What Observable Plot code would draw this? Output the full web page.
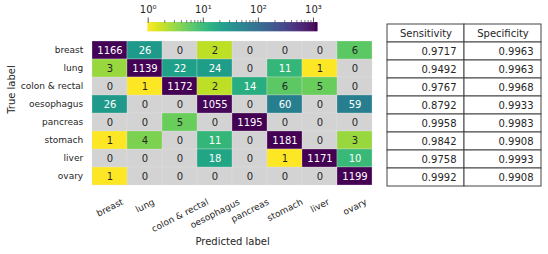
<!DOCTYPE html>
<html><head><meta charset="utf-8">
<script src="https://cdn.jsdelivr.net/npm/d3@7"></script>
<script src="https://cdn.jsdelivr.net/npm/@observablehq/plot@0.6"></script>
<style>
body{margin:0;background:#fff;}
#wrap{position:relative;width:548px;height:254px;background:#fff;}
#wrap svg{position:absolute;left:0;top:0;}
</style>
</head><body><div id="wrap"></div>
<script>
const labels = ["breast","lung","colon & rectal","oesophagus","pancreas","stomach","liver","ovary"];
const counts = [
  [1166,26,0,2,0,0,0,6],
  [3,1139,22,24,0,11,1,0],
  [0,1,1172,2,14,6,5,0],
  [26,0,0,1055,0,60,0,59],
  [0,0,5,0,1195,0,0,0],
  [1,4,0,11,0,1181,0,3],
  [0,0,0,18,0,1,1171,10],
  [1,0,0,0,0,0,0,1199]
];
const sensitivity = [0.9717,0.9492,0.9767,0.8792,0.9958,0.9842,0.9758,0.9992];
const specificity = [0.9963,0.9963,0.9968,0.9933,0.9983,0.9908,0.9993,0.9908];
const tableColumns = ["Sensitivity","Specificity"];
const colorMajorTicks = [1,10,100,1000];
const colorTickLabels = ["10\u2070","10\u00b9","10\u00b2","10\u00b3"];
const colorMinorTicks = [2,3,4,5,6,7,8,9,20,30,40,50,60,70,80,90,200,300,400,500,600,700,800,900];
const colorDomain = [1,1199];

const FONT = "DejaVu Sans";
const INK = "#262626";
const W = 548, H = 254;
const wrap = document.getElementById("wrap");

const cells = [];
labels.forEach((t,i)=>labels.forEach((p,j)=>cells.push({t, p, v: counts[i][j]})));

const colorOpts = {type:"log", scheme:"viridis", reverse:true, domain:colorDomain};

// measure x tick labels for centred rotated placement
const ctx = document.createElement("canvas").getContext("2d");
ctx.font = `9px "${FONT}"`;
const ang = 27 * Math.PI / 180;
const xLabelMarks = labels.map(l => {
  const L = ctx.measureText(l).width;
  const Hh = L * Math.sin(ang) + 10.5 * Math.cos(ang);
  return Plot.text([l], {x: d => d, frameAnchor: "bottom", dy: 9.4 + Hh/2, rotate: -27,
    textAnchor: "middle", lineAnchor: "middle", fontSize: 9, fill: INK});
});

const main = Plot.plot({
  width: W, height: H,
  marginLeft: 91.7, marginRight: W - 372.5, marginTop: 40, marginBottom: H - 186.7,
  style: {fontFamily: FONT, fontSize: "9px", color: INK, background: "transparent"},
  x: {domain: labels, padding: 0, axis: null},
  y: {domain: labels, padding: 0, axis: null},
  color: colorOpts,
  marks: [
    Plot.cell(cells.filter(d => d.v === 0), {x: "p", y: "t", fill: "#d3d3d3", stroke: "#e4e4e4", strokeWidth: 0.3}),
    Plot.cell(cells.filter(d => d.v > 0), {x: "p", y: "t", fill: "v", stroke: "#e4e4e4", strokeWidth: 0.3}),
    Plot.text(cells.filter(d => d.v >= 10), {x: "p", y: "t", text: d => String(d.v), fill: "white", fontSize: 10}),
    Plot.text(cells.filter(d => d.v < 10), {x: "p", y: "t", text: d => String(d.v), fill: INK, fontSize: 10}),
    Plot.axisY({tickSize: 0, tickPadding: 9, label: null, fontSize: 9, fill: INK}),
    ...xLabelMarks,
    Plot.text(["Predicted label"], {frameAnchor: "bottom", dy: 54.5, lineAnchor: "middle", fontSize: 10, fill: INK}),
    Plot.text(["True label"], {frameAnchor: "left", dx: -80.7, rotate: -90, lineAnchor: "middle", fontSize: 10, fill: INK})
  ]
});
wrap.appendChild(main);

// colour bar (gradient strips, log-spaced so they are uniform on screen)
const N = 340;
const edges = d3.range(N + 1).map(i => Math.pow(colorDomain[1], i / N));
const strips = d3.range(N).map(i => ({x1: edges[i], x2: edges[i + 1], c: Math.sqrt(edges[i] * edges[i + 1])}));
const cbar = Plot.plot({
  width: W, height: H,
  marginLeft: 147.7, marginRight: W - 317.3, marginTop: 22.7, marginBottom: H - 31,
  style: {fontFamily: FONT, fontSize: "10px", color: INK, background: "transparent"},
  x: {type: "log", domain: colorDomain, axis: null},
  y: {type: "linear", domain: [0, 1], axis: null},
  color: colorOpts,
  marks: [
    Plot.rect(strips, {x1: "x1", x2: "x2", y1: 0, y2: 1, fill: "c", stroke: "c", strokeWidth: 0.4}),
    Plot.text(colorMajorTicks, {x: d => d, frameAnchor: "top", dy: -13.5, text: (d, i) => colorTickLabels[i], fontSize: 10, fill: INK, lineAnchor: "middle"})
  ]
});
// ticks above the bar
const cbar2 = Plot.plot({
  width: W, height: H,
  marginLeft: 147.7, marginRight: W - 317.3, marginTop: 17.5, marginBottom: H - 22.7,
  style: {background: "transparent"},
  x: {type: "log", domain: colorDomain, axis: null},
  y: {type: "linear", domain: [0, 1], axis: null},
  marks: [
    Plot.ruleX(colorMajorTicks, {x: d => d, y1: 0, y2: 1, stroke: INK, strokeWidth: 0.8}),
    Plot.ruleX(colorMinorTicks, {x: d => d, y1: 0, y2: 0.52, stroke: INK, strokeWidth: 0.6})
  ]
});
wrap.appendChild(cbar);
wrap.appendChild(cbar2);

// table
const tRows = ["__head", ...labels];
const tCells = [];
tRows.forEach(r => tableColumns.forEach(c => tCells.push({r, c})));
const tVals = [];
labels.forEach((l, i) => {
  tVals.push({r: l, c: tableColumns[0], v: sensitivity[i]});
  tVals.push({r: l, c: tableColumns[1], v: specificity[i]});
});
const fmt = d3.format(".4f");
const table = Plot.plot({
  width: W, height: H,
  marginLeft: 386.7, marginRight: W - 541.7, marginTop: 23.3, marginBottom: H - 186.7,
  style: {fontFamily: FONT, fontSize: "10px", color: INK, background: "transparent"},
  x: {domain: tableColumns, padding: 0, axis: null},
  y: {domain: tRows, padding: 0, axis: null},
  marks: [
    Plot.cell(tCells, {x: "c", y: "r", fill: "white", stroke: "#444", strokeWidth: 1}),
    Plot.text(tableColumns, {x: d => d, y: () => "__head", fontSize: 10, fill: INK}),
    Plot.text(tVals, {x: "c", y: "r", text: d => fmt(d.v), textAnchor: "end", dx: 30.5, fontSize: 10, fill: INK})
  ]
});
wrap.appendChild(table);
</script>
</body></html>
